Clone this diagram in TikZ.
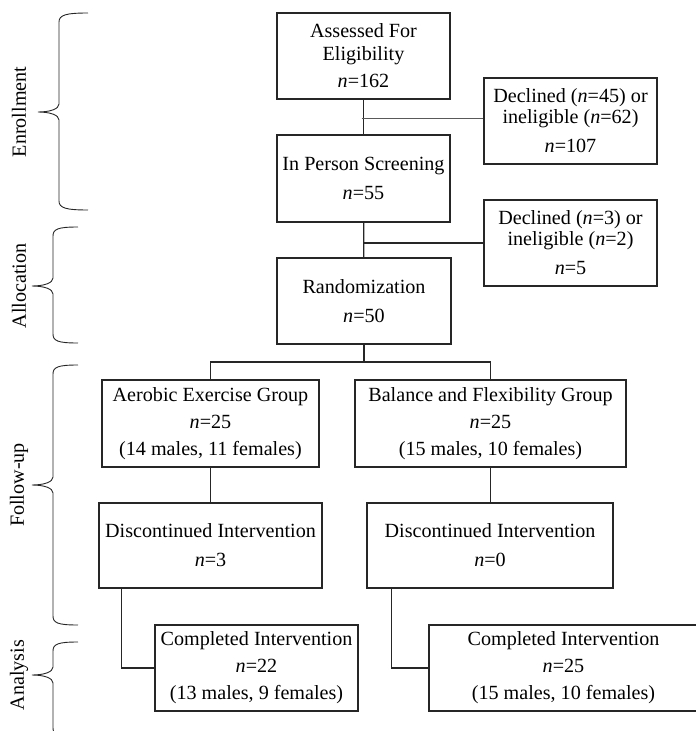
\documentclass[tikz,border=0pt]{standalone}
\usepackage{fontspec}
\setmainfont{Liberation Serif}
\usetikzlibrary{calc}
\tikzset{
  box/.style={draw=black!85, line width=1.3bp, align=center, inner sep=0pt,
    font=\fontsize{20.2}{29}\selectfont},
  conn/.style={draw=black!85, line width=1.3bp},
  thinconn/.style={draw=black!65, line width=0.8bp},
  brace/.style={draw=black!85, line width=0.9bp},
  side/.style={rotate=90, font=\fontsize{20.2}{29}\selectfont}
}
\begin{document}
\begin{tikzpicture}[x=1bp,y=-1bp]
\useasboundingbox (0,0) rectangle (696,731);
% boxes
\node[box, minimum width=173bp, minimum height=86bp] (A) at (363.5,56) {Assessed For\\[-6bp]Eligibility\\[-2bp]\textit{n}=162};
\node[box, minimum width=173bp, minimum height=86bp] (D1) at (570.5,121) {Declined (\textit{n}=45) or\\[-8bp]ineligible (\textit{n}=62)\\\textit{n}=107};
\node[box, minimum width=173bp, minimum height=87bp] (S) at (363.5,178.5) {In Person Screening\\\textit{n}=55};
\node[box, minimum width=173bp, minimum height=86bp] (D2) at (570.5,243) {Declined (\textit{n}=3) or\\[-8bp]ineligible (\textit{n}=2)\\\textit{n}=5};
\node[box, minimum width=174bp, minimum height=86bp] (R) at (364,301) {Randomization\\\textit{n}=50};
\node[box, minimum width=217bp, minimum height=87bp] (AE) at (210.5,423.5) {Aerobic Exercise Group\\[-2bp]\textit{n}=25\\[-2bp](14 males, 11 females)};
\node[box, minimum width=271bp, minimum height=87bp] (BF) at (490.5,423.5) {Balance and Flexibility Group\\[-2bp]\textit{n}=25\\[-2bp](15 males, 10 females)};
\node[box, minimum width=223bp, minimum height=85bp] (DL) at (210.5,545.5) {Discontinued Intervention\\\textit{n}=3};
\node[box, minimum width=246bp, minimum height=85bp] (DR) at (490,545.5) {Discontinued Intervention\\\textit{n}=0};
\node[box, minimum width=203bp, minimum height=86bp] (CL) at (256.5,668) {Completed Intervention\\[-2bp]\textit{n}=22\\[-2bp](13 males, 9 females)};
\node[box, minimum width=269bp, minimum height=86bp] (CR) at (563.5,668) {Completed Intervention\\[-2bp]\textit{n}=25\\[-2bp](15 males, 10 females)};
% connectors
\draw[conn] (A) -- (S);
\coordinate (j1) at (361.5,118);
\draw[thinconn] (j1) -- (j1 -| D1.west);
\draw[conn] (S) -- (R);
\draw[conn] (S.south |- D2.west) -- (D2.west);
\coordinate (split) at (364,362);
\draw[conn] (R.south) -- (split);
\draw[conn] (split) -| (AE.north);
\draw[conn] (split) -| (BF.north);
\draw[conn] (AE) -- (DL);
\draw[conn] (BF.south) -- (BF.south |- DR.north);
\draw[conn] ($(DL.south west)+(23,0)$) |- (CL.west);
\draw[conn] ($(DR.south west)+(25,0)$) |- (CR.west);
% braces
\draw[brace] (88,13) .. controls (66,13) and (59,15) .. (59,22) -- (59,104)
  .. controls (59,109) and (50,112) .. (38,112)
  .. controls (50,112) and (59,115) .. (59,120) -- (59,201)
  .. controls (59,208) and (66,210) .. (88,210);
\draw[brace] (78,227) .. controls (58,227) and (53,229) .. (53,236) -- (53,278)
  .. controls (53,283) and (44,286) .. (32,286)
  .. controls (44,286) and (53,289) .. (53,294) -- (53,334)
  .. controls (53,341) and (58,343) .. (78,343);
\draw[brace] (78,365) .. controls (58,365) and (53,367) .. (53,374) -- (53,477)
  .. controls (53,482) and (44,485) .. (32,485)
  .. controls (44,485) and (53,488) .. (53,493) -- (53,616)
  .. controls (53,623) and (58,625) .. (78,625);
\draw[brace] (78,642) .. controls (58,642) and (53,644) .. (53,651) -- (53,667)
  .. controls (53,672) and (44,675) .. (32,675)
  .. controls (44,675) and (53,678) .. (53,683) -- (53,728)
  .. controls (53,735) and (58,737) .. (78,737);
% side labels
\node[side] (L1) at (19,112) {Enrollment};
\node[side] (L2) at (19,286) {Allocation};
\node[side] (L3) at (19,485) {Follow-up};
\node[side] (L4) at (19,675) {Analysis};
\end{tikzpicture}
\end{document}
